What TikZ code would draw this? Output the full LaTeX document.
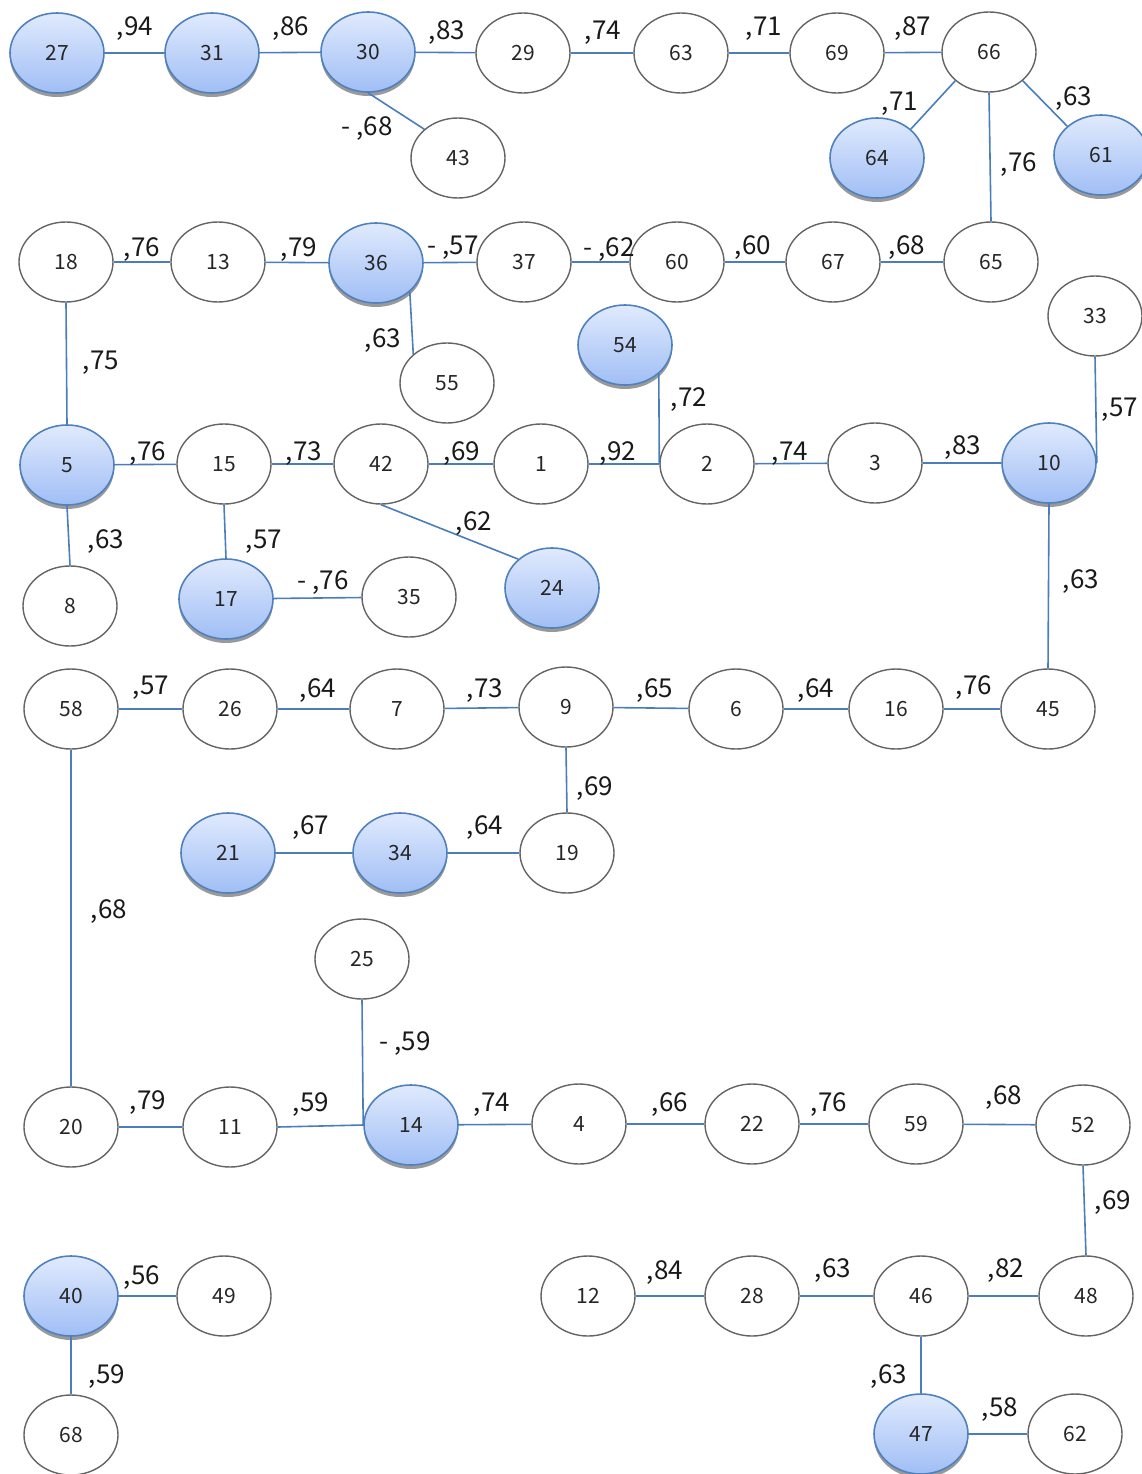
\documentclass[tikz,border=0pt]{standalone}
\usepackage{fontspec}
\setmainfont{Noto Sans CJK JP}
\usetikzlibrary{shapes.geometric,shadows}
\definecolor{edgeblue}{RGB}{74,126,187}
\definecolor{nodeborder}{RGB}{79,129,189}
\definecolor{topblue}{RGB}{224,234,253}
\definecolor{botblue}{RGB}{160,190,245}
\definecolor{graybord}{RGB}{100,100,100}
\tikzset{
  wnode/.style={ellipse, draw=graybord, line width=1.4pt, fill=white, minimum width=94pt, minimum height=80pt, inner sep=0pt, font=\fontsize{21}{24}\selectfont, text=black!85},
  bnode/.style={ellipse, draw=nodeborder, line width=1.6pt, top color=topblue, bottom color=botblue, minimum width=94pt, minimum height=80pt, inner sep=0pt, font=\fontsize{21}{24}\selectfont, text=black!85, drop shadow={shadow xshift=0pt, shadow yshift=-4pt, fill=black!40, opacity=1}},
  edge/.style={draw=edgeblue, line width=1.6pt},
  lab/.style={font=\fontsize{26}{30}\selectfont, text=black!90, inner sep=0pt, yshift=-2pt}
}
\begin{document}
\begin{tikzpicture}[x=1pt,y=-1pt]
\clip (0,0) rectangle (1142,1474);
\useasboundingbox (0,0) rectangle (1142,1474);
% row 1
\node[bnode] (n27) at (57,53) {27};
\node[bnode] (n31) at (212,53) {31};
\node[bnode] (n30) at (368,52) {30};
\node[wnode] (n29) at (523,53) {29};
\node[wnode] (n63) at (681,53) {63};
\node[wnode] (n69) at (837,53) {69};
\node[wnode] (n66) at (989,52) {66};
\node[wnode] (n43) at (458,158) {43};
\node[bnode] (n64) at (877,158) {64};
\node[bnode] (n61) at (1101,155) {61};
% row 2
\node[wnode] (n18) at (66,262) {18};
\node[wnode] (n13) at (218,262) {13};
\node[bnode] (n36) at (376,263) {36};
\node[wnode] (n37) at (524,262) {37};
\node[wnode] (n60) at (677,262) {60};
\node[wnode] (n67) at (833,262) {67};
\node[wnode] (n65) at (991,262) {65};
\node[wnode] (n55) at (447,383) {55};
\node[bnode] (n54) at (625,345) {54};
\node[wnode] (n33) at (1095,316) {33};
% row 3
\node[bnode] (n5) at (67,465) {5};
\node[wnode] (n15) at (224,464) {15};
\node[wnode] (n42) at (381,464) {42};
\node[wnode] (n1) at (541,464) {1};
\node[wnode] (n2) at (707,464) {2};
\node[wnode] (n3) at (875,463) {3};
\node[bnode] (n10) at (1049,463) {10};
\node[wnode] (n8) at (70,606) {8};
\node[bnode] (n17) at (226,599) {17};
\node[wnode] (n35) at (409,597) {35};
\node[bnode] (n24) at (552,588) {24};
% row 4
\node[wnode] (n58) at (71,709) {58};
\node[wnode] (n26) at (230,709) {26};
\node[wnode] (n7) at (397,709) {7};
\node[wnode] (n9) at (566,707) {9};
\node[wnode] (n6) at (736,709) {6};
\node[wnode] (n16) at (896,709) {16};
\node[wnode] (n45) at (1048,709) {45};
\node[bnode] (n21) at (228,853) {21};
\node[bnode] (n34) at (400,853) {34};
\node[wnode] (n19) at (567,853) {19};
\node[wnode] (n25) at (362,959) {25};
% row 5
\node[wnode] (n20) at (71,1127) {20};
\node[wnode] (n11) at (230,1127) {11};
\node[bnode] (n14) at (411,1125) {14};
\node[wnode] (n4) at (579,1124) {4};
\node[wnode] (n22) at (752,1124) {22};
\node[wnode] (n59) at (916,1124) {59};
\node[wnode] (n52) at (1083,1125) {52};
% row 6
\node[bnode] (n40) at (71,1296) {40};
\node[wnode] (n49) at (224,1296) {49};
\node[wnode] (n12) at (588,1296) {12};
\node[wnode] (n28) at (752,1296) {28};
\node[wnode] (n46) at (921,1296) {46};
\node[wnode] (n48) at (1086,1296) {48};
\node[wnode] (n68) at (71,1435) {68};
\node[bnode] (n47) at (921,1434) {47};
\node[wnode] (n62) at (1075,1434) {62};

% edges
\draw[edge] (n27) -- (n31);
\draw[edge] (n31) -- (n30);
\draw[edge] (n30) -- (n29);
\draw[edge] (n29) -- (n63);
\draw[edge] (n63) -- (n69);
\draw[edge] (n69) -- (n66);
\draw[edge] (n30.south) -- (n43.north west);
\draw[edge] (n66.south west) -- (n64.north east);
\draw[edge] (n66.south east) -- (n61.north west);
\draw[edge] (n66.south) -- (n65.north);
\draw[edge] (n18) -- (n13);
\draw[edge] (n13) -- (n36);
\draw[edge] (n36) -- (n37);
\draw[edge] (n37) -- (n60);
\draw[edge] (n60) -- (n67);
\draw[edge] (n67) -- (n65);
\draw[edge] (n36.south east) -- (n55.north west);
\draw[edge] (n18.south) -- (n5.north);
\draw[edge] (n5) -- (n15);
\draw[edge] (n15) -- (n42);
\draw[edge] (n42) -- (n1);
\draw[edge] (n1) -- (n2);
\draw[edge] (n54.south east) -- (n2.west);
\draw[edge] (n2) -- (n3);
\draw[edge] (n3) -- (n10);
\draw[edge] (n33.south) -- (n10.east);
\draw[edge] (n10.south) -- (n45.north);
\draw[edge] (n5.south) -- (n8.north);
\draw[edge] (n15.south) -- (n17.north);
\draw[edge] (n17) -- (n35);
\draw[edge] (n42.south) -- (n24.north west);
\draw[edge] (n58) -- (n26);
\draw[edge] (n26) -- (n7);
\draw[edge] (n7) -- (n9);
\draw[edge] (n9) -- (n6);
\draw[edge] (n6) -- (n16);
\draw[edge] (n16) -- (n45);
\draw[edge] (n9.south) -- (n19.north);
\draw[edge] (n21) -- (n34);
\draw[edge] (n34) -- (n19);
\draw[edge] (n58.south) -- (n20.north);
\draw[edge] (n20) -- (n11);
\draw[edge] (n11.east) -- (n14.west);
\draw[edge] (n25.south) -- (n14.west);
\draw[edge] (n14) -- (n4);
\draw[edge] (n4) -- (n22);
\draw[edge] (n22) -- (n59);
\draw[edge] (n59) -- (n52);
\draw[edge] (n52.south) -- (n48.north);
\draw[edge] (n40) -- (n49);
\draw[edge] (n40.south) -- (n68.north);
\draw[edge] (n12) -- (n28);
\draw[edge] (n28) -- (n46);
\draw[edge] (n46) -- (n48);
\draw[edge] (n46.south) -- (n47.north);
\draw[edge] (n47) -- (n62);

% labels
\node[lab] (l1) at (135,27) {,94};
\node[lab] (l2) at (291,27) {,86};
\node[lab] (l3) at (447,31) {,83};
\node[lab] (l4) at (603,31) {,74};
\node[lab] (l5) at (764,27) {,71};
\node[lab] (l6) at (913,27) {,87};
\node[lab] (l7) at (367,127) {- ,68};
\node[lab] (l8) at (900,102) {,71};
\node[lab] (l9) at (1074,97) {,63};
\node[lab] (l10) at (1019,163) {,76};
\node[lab] (l11) at (142,248) {,76};
\node[lab] (l12) at (299,248) {,79};
\node[lab] (l13) at (453,246) {- ,57};
\node[lab] (l14) at (609,248) {- ,62};
\node[lab] (l15) at (753,246) {,60};
\node[lab] (l16) at (907,246) {,68};
\node[lab] (l17) at (383,339) {,63};
\node[lab] (l18) at (689,398) {,72};
\node[lab] (l19) at (1120,408) {,57};
\node[lab] (l20) at (101,361) {,75};
\node[lab] (l21) at (148,452) {,76};
\node[lab] (l22) at (304,452) {,73};
\node[lab] (l23) at (462,452) {,69};
\node[lab] (l24) at (618,452) {,92};
\node[lab] (l25) at (790,452) {,74};
\node[lab] (l26) at (963,446) {,83};
\node[lab] (l27) at (106,540) {,63};
\node[lab] (l28) at (264,540) {,57};
\node[lab] (l29) at (323,581) {- ,76};
\node[lab] (l30) at (474,522) {,62};
\node[lab] (l31) at (1081,580) {,63};
\node[lab] (l32) at (151,686) {,57};
\node[lab] (l33) at (318,689) {,64};
\node[lab] (l34) at (485,689) {,73};
\node[lab] (l35) at (655,689) {,65};
\node[lab] (l36) at (816,689) {,64};
\node[lab] (l37) at (974,686) {,76};
\node[lab] (l38) at (595,787) {,69};
\node[lab] (l39) at (311,826) {,67};
\node[lab] (l40) at (485,826) {,64};
\node[lab] (l41) at (109,910) {,68};
\node[lab] (l42) at (405,1042) {- ,59};
\node[lab] (l43) at (148,1101) {,79};
\node[lab] (l44) at (311,1103) {,59};
\node[lab] (l45) at (492,1103) {,74};
\node[lab] (l46) at (670,1103) {,66};
\node[lab] (l47) at (829,1103) {,76};
\node[lab] (l48) at (1004,1096) {,68};
\node[lab] (l49) at (1113,1201) {,69};
\node[lab] (l50) at (142,1276) {,56};
\node[lab] (l51) at (665,1271) {,84};
\node[lab] (l52) at (833,1269) {,63};
\node[lab] (l53) at (1006,1269) {,82};
\node[lab] (l54) at (107,1375) {,59};
\node[lab] (l55) at (889,1375) {,63};
\node[lab] (l56) at (1000,1408) {,58};
\end{tikzpicture}
\end{document}
